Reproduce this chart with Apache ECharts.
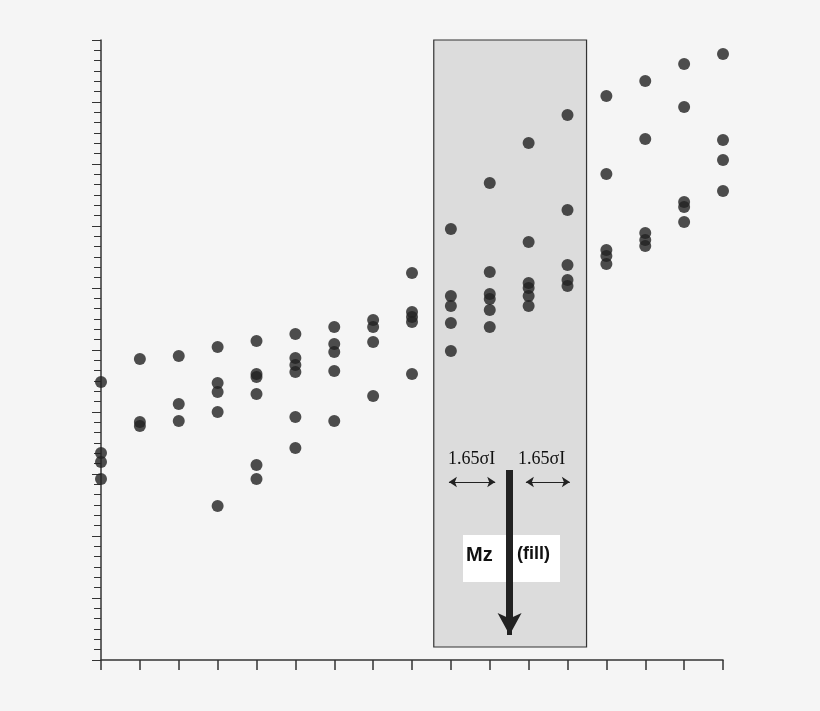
<!DOCTYPE html>
<html><head><meta charset="utf-8">
<script src="https://cdn.jsdelivr.net/npm/echarts@6/dist/echarts.min.js"></script>
<style>html,body{margin:0;padding:0;background:#f5f5f5}#c{width:820px;height:711px}</style>
</head><body><div id="c"></div>
<script>
// y values measured as height above the x axis (arbitrary log-scale units)
const xIndex = [0,1,2,3,4,5,6,7,8,9,10,11,12,13,14,15,16];
const pixelTops = [
  [382,453,462,479],
  [359,422,426],
  [356,404,421],
  [347,383,392,412,506],
  [341,374,377,394,465,479],
  [334,358,365,372,417,448],
  [327,344,352,371,421],
  [320,327,342,396],
  [273,312,317,322,374],
  [229,296,306,323,351],
  [183,272,294,299,310,327],
  [143,242,283,288,296,306],
  [115,210,265,280,286],
  [96,174,250,256,264],
  [81,139,233,240,246],
  [64,107,202,207,222],
  [54,140,160,191]
];
const heights = pixelTops.map(col => col.map(p => 660 - p));
const points = [];
xIndex.forEach((x,i)=>heights[i].forEach(v=>points.push([x,v])));
const band = [8.56, 12.49];
const arrowX = 10.51;

const chart = echarts.init(document.getElementById('c'));
chart.setOption({
  backgroundColor:'#f5f5f5',
  animation:false,
  grid:{left:101,right:97,top:40,bottom:51},
  xAxis:{type:'value',min:0,max:16,interval:1,
    axisLine:{lineStyle:{color:'#333',width:1.5}},
    axisTick:{inside:false,length:10,lineStyle:{color:'#333',width:1.5}},
    axisLabel:{show:false},splitLine:{show:false}},
  yAxis:{type:'value',min:0,max:620,interval:62,
    axisLine:{show:true,lineStyle:{color:'#333',width:1.5}},
    axisTick:{show:true,length:9,lineStyle:{color:'#333'}},
    minorTick:{show:true,splitNumber:6,length:7,lineStyle:{color:'#333'}},
    axisLabel:{show:false},splitLine:{show:false}},
  series:[
    {type:'scatter',data:[],silent:true,z:1,
     markArea:{silent:true,itemStyle:{color:'#dcdcdc',borderColor:'#333',borderWidth:1.2},
       data:[[{coord:[band[0],13]},{coord:[band[1],620]}]]}},
    {type:'scatter',data:points,symbolSize:12,itemStyle:{color:'#222'},z:3},
    {type:'scatter',data:[],silent:true,z:4,
     markLine:{silent:true,animation:false,label:{show:false},
       data:[
        [{coord:[arrowX,188],symbol:'none',lineStyle:{color:'#222',width:5,type:'solid'}},{coord:[arrowX,25],symbol:'arrow',symbolSize:[18,22]}],
        [{coord:[8.95,178],symbol:'arrow',symbolSize:8,lineStyle:{color:'#222',width:1.2,type:'solid'}},{coord:[10.14,178],symbol:'arrow',symbolSize:8}],
        [{coord:[10.93,178],symbol:'arrow',symbolSize:8,lineStyle:{color:'#222',width:1.2,type:'solid'}},{coord:[12.06,178],symbol:'arrow',symbolSize:8}]
       ]}}
  ],
  graphic:[
    {type:'rect',shape:{x:463,y:535,width:97,height:47},style:{fill:'#fff'},z:10},
    {type:'rect',shape:{x:506,y:470,width:7,height:150},style:{fill:'#222'},z:11},
    {type:'text',x:466,y:545,style:{text:'Mz',font:'bold 20px Liberation Sans',fill:'#111'},z:12},
    {type:'text',x:517,y:545,style:{text:'(fill)',font:'bold 18px Liberation Sans',fill:'#111'},z:12},
    {type:'text',x:448,y:450,style:{text:'1.65σI',font:'18px Liberation Serif',fill:'#111'},z:12},
    {type:'text',x:518,y:450,style:{text:'1.65σI',font:'18px Liberation Serif',fill:'#111'},z:12}
  ]
});
</script></body></html>
